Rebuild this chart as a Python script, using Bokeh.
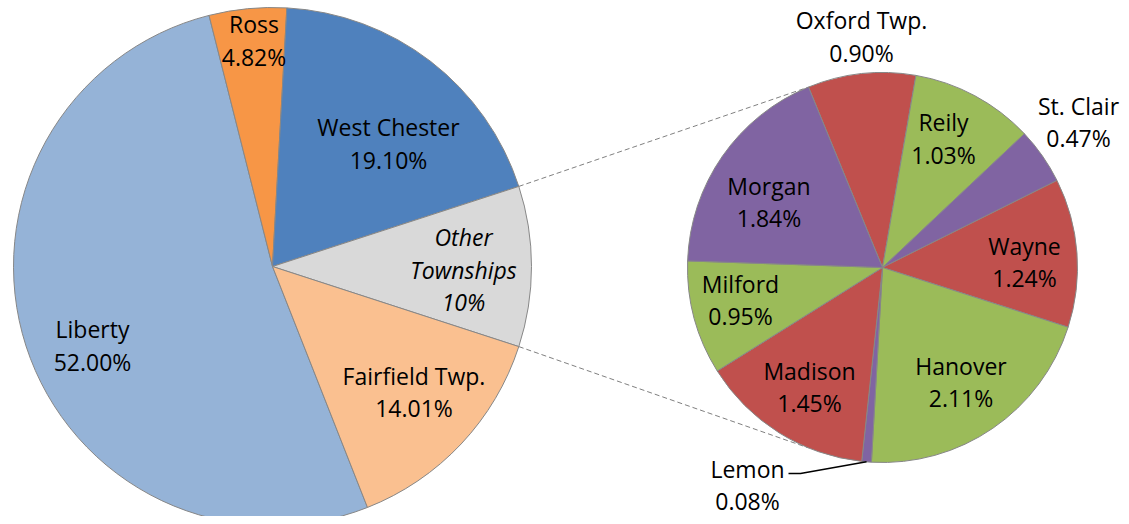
import math
from bokeh.plotting import figure
from bokeh.models import Range1d, ColumnDataSource
from bokeh.core.properties import value
from bokeh.embed import file_html
from bokeh.resources import INLINE

# ---------------- data ----------------
main_names = ["Liberty", "Ross", "West Chester", "Other Townships", "Fairfield Twp."]
main_values = [52.00, 4.82, 19.10, 10.0, 14.01]
main_pct_labels = ["52.00%", "4.82%", "19.10%", "10%", "14.01%"]
main_colors = ["#95B3D7", "#F79646", "#4F81BD", "#D9D9D9", "#FAC090"]

sub_names = ["Oxford Twp.", "Reily", "St. Clair", "Wayne", "Hanover", "Lemon",
             "Madison", "Milford", "Morgan"]
sub_values = [0.90, 1.03, 0.47, 1.24, 2.11, 0.08, 1.45, 0.95, 1.84]
sub_pct_labels = ["0.90%", "1.03%", "0.47%", "1.24%", "2.11%", "0.08%",
                  "1.45%", "0.95%", "1.84%"]
sub_colors = ["#C0504D", "#9BBB59", "#8064A2", "#C0504D", "#9BBB59", "#8064A2",
              "#C0504D", "#9BBB59", "#8064A2"]

# ---------------- layout (pixels) ----------------
W, H = 1121, 516
MAIN_C = (272, 266)
MAIN_R = 259
SUB_C = (882, 267)
SUB_R = 195
OTHER_INDEX = 3          # slice exploded into the second pie
SUB_START = -22.3        # clockwise from 12 o'clock, degrees
FONT = "Open Sans"
FS = 23
LINE_H = 32.5
CAP_HALF = 8.2
TEXT_SHIFT = -8          # renderer baseline correction

# label offsets (first-line cap centre) relative to each pie centre
main_label_off = [(-180, 62.7), (-18.5, -242.5), (116, -139.5), (191, -29.5), (141.5, 109)]
sub_label_off = [(-21, -247.5), (61, -145.5), (196, -162), (142, -22), (78.5, 98),
                 (-135, 201), (-73, 103), (-142, 16), (-113.5, -82)]

p = figure(width=W, height=H, output_backend="svg", toolbar_location=None,
           x_range=Range1d(0, W), y_range=Range1d(-H, 0),
           x_axis_type=None, y_axis_type=None, min_border=0)
p.outline_line_color = None
p.grid.visible = False
p.background_fill_color = "white"


def pt(c, r, a_cw):
    """point on circle; a_cw degrees clockwise from 12 o'clock; returns data coords"""
    a = math.radians(a_cw)
    return c[0] + r * math.sin(a), -(c[1] - r * math.cos(a))


def slices(vals, start_cw):
    tot = sum(vals)
    out = []
    a = start_cw
    for v in vals:
        span = v / tot * 360.0
        out.append((a, a + span))
        a += span
    return out


# main pie: centre the "Other" slice on 3 o'clock
tot_main = sum(main_values)
before = sum(main_values[:OTHER_INDEX]) / tot_main * 360.0
other_span = main_values[OTHER_INDEX] / tot_main * 360.0
main_start = 90 - other_span / 2 - before
main_sl = slices(main_values, main_start)
sub_sl = slices(sub_values, SUB_START)

# connector lines (drawn under the second pie)
o_a1, o_a2 = main_sl[OTHER_INDEX]
p1 = pt(MAIN_C, MAIN_R, o_a1)
p2 = pt(MAIN_C, MAIN_R, o_a2)
q1 = pt(SUB_C, SUB_R, SUB_START)
q2 = pt(SUB_C, SUB_R, 180 - SUB_START)
p.segment(x0=[p1[0], p2[0]], y0=[p1[1], p2[1]], x1=[q1[0], q2[0]], y1=[q1[1], q2[1]],
          line_color="#808080", line_width=1, line_dash="5 3")


def draw_pie(c, r, sl, colors):
    src = ColumnDataSource(dict(
        start=[math.radians(90 - b) for a, b in sl],
        end=[math.radians(90 - a) for a, b in sl],
        color=colors))
    p.wedge(x=c[0], y=-c[1], radius=r, start_angle="start", end_angle="end",
            fill_color="color", line_color="#878787", line_width=1, source=src)


draw_pie(MAIN_C, MAIN_R, main_sl, main_colors)
draw_pie(SUB_C, SUB_R, sub_sl, sub_colors)


def label_texts(names, pcts, offs, c, italic_idx=None):
    xs, ys, ts, st = [], [], [], []
    for i, (n, v) in enumerate(zip(names, pcts)):
        lines = n.split(" ") + [v] if i == italic_idx else [n, v]
        x0 = c[0] + offs[i][0]
        y0 = c[1] + offs[i][1]
        for j, t in enumerate(lines):
            xs.append(x0)
            ys.append(-(y0 + CAP_HALF + j * LINE_H + TEXT_SHIFT))
            ts.append(t)
            st.append("italic" if i == italic_idx else "normal")
    return xs, ys, ts, st


xs, ys, ts, st = label_texts(main_names, main_pct_labels, main_label_off, MAIN_C, OTHER_INDEX)
xs2, ys2, ts2, st2 = label_texts(sub_names, sub_pct_labels, sub_label_off, SUB_C)
lsrc = ColumnDataSource(dict(x=xs + xs2, y=ys + ys2, t=ts + ts2, s=st + st2))
p.text(x="x", y="y", text="t", source=lsrc, text_font=value(FONT),
       text_font_size=value(f"{FS}px"), text_font_style="s", text_color="black",
       text_align="center", text_baseline="alphabetic")

# leader line for Lemon
li = sub_names.index("Lemon")
la, lb = sub_sl[li]
rim = pt(SUB_C, SUB_R, (la + lb) / 2)
lx = SUB_C[0] + sub_label_off[li][0]
ly = SUB_C[1] + sub_label_off[li][1] + 5
p.line(x=[lx + 41, lx + 53, rim[0]], y=[-ly, -ly, rim[1]], line_color="black", line_width=1.5)

open("out.html", "w").write(file_html(p, INLINE))
